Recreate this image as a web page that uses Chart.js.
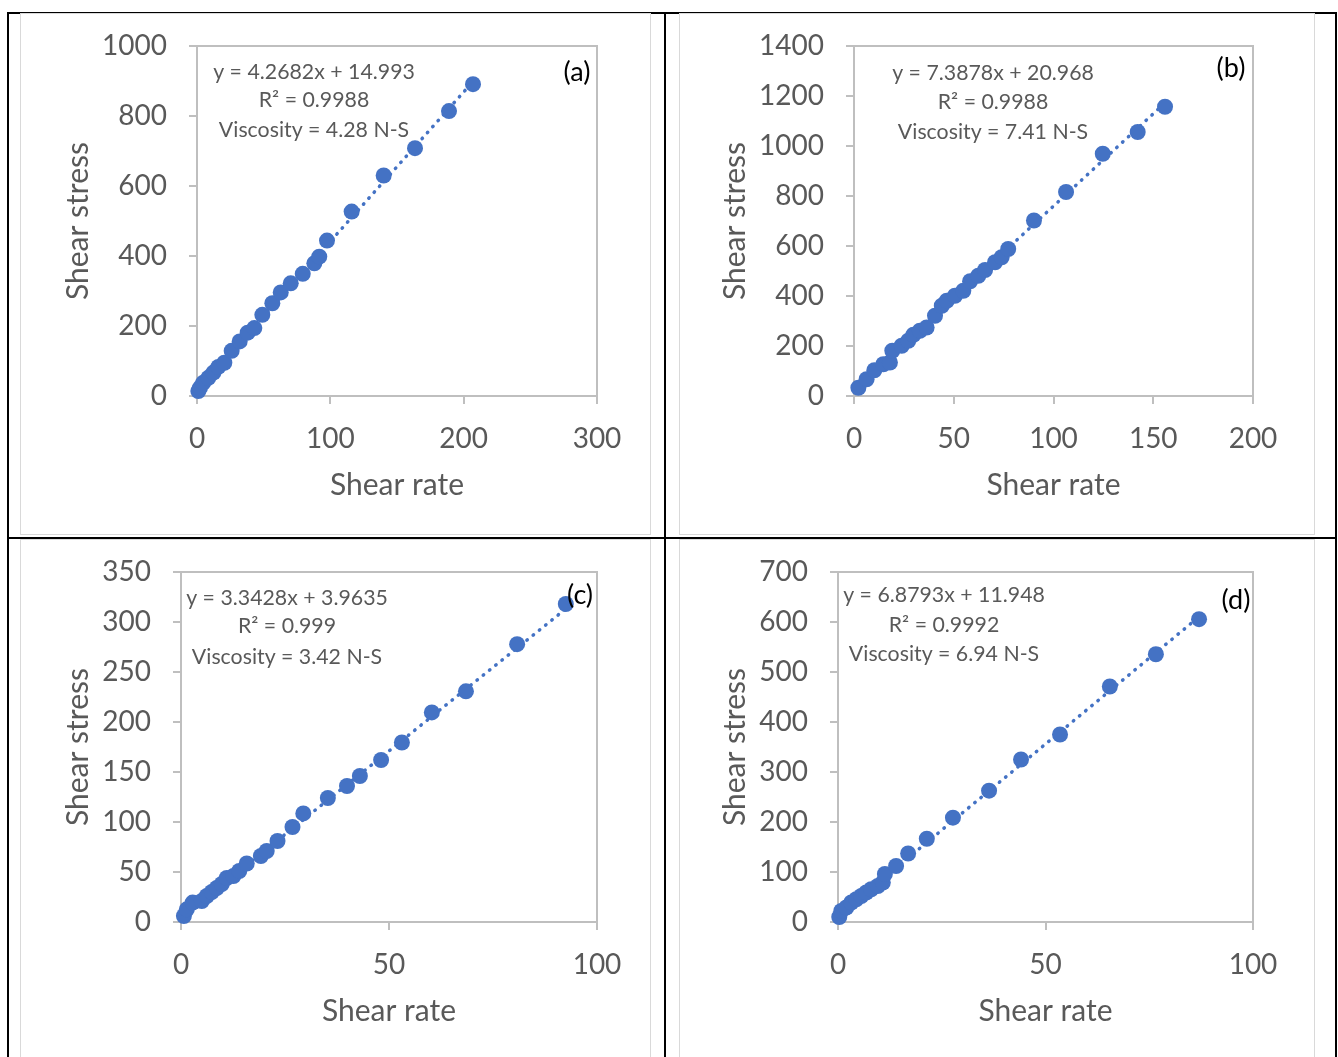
<!DOCTYPE html>
<html>
<head>
<meta charset="utf-8">
<script src="https://cdn.jsdelivr.net/npm/chart.js@4.4.1/dist/chart.umd.min.js"></script>
<style>
  html, body { margin: 0; padding: 0; background: #fff; width: 1338px; height: 1057px; overflow: hidden; }
  .rule { position: absolute; background: #000; }
  .panel { position: absolute; box-sizing: border-box; border: 1px solid #d9d9d9; background: #fff; }
  .panel canvas { display: block; }
</style>
</head>
<body>
<!-- table rules -->
<div class="rule" style="left:7px;top:12px;width:1330px;height:2px"></div>
<div class="rule" style="left:7px;top:537px;width:1330px;height:2px"></div>
<div class="rule" style="left:7px;top:12px;width:2px;height:1045px"></div>
<div class="rule" style="left:664px;top:12px;width:2px;height:1045px"></div>
<div class="rule" style="left:1335px;top:12px;width:2px;height:1045px"></div>

<div class="panel" style="left:20px;top:13px;width:631px;height:522px"><canvas id="cA" width="629" height="520"></canvas></div>
<div class="panel" style="left:679px;top:13px;width:636px;height:522px"><canvas id="cB" width="634" height="520"></canvas></div>
<div class="panel" style="left:20px;top:539px;width:631px;height:522px"><canvas id="cC" width="629" height="520"></canvas></div>
<div class="panel" style="left:679px;top:539px;width:636px;height:522px"><canvas id="cD" width="634" height="520"></canvas></div>

<script>
// Measured shear rate / shear stress pairs for the four samples
const rateA   = [1, 2.3, 4.7, 8.5, 12.3, 16, 20.5, 26, 32, 38, 43, 49, 56.5, 62.8, 70.3, 79.3, 88, 91.7, 97.5, 116, 140, 163.5, 189, 207];
const stressA = [14, 24, 38, 52, 67, 83, 95, 129, 156, 181, 194, 232, 265, 296, 322, 349, 379, 398, 444, 527, 630, 708, 814, 891];

const rateB   = [2.2, 6.3, 10.2, 14.7, 18, 19.2, 23.9, 27.2, 29.8, 33, 36.4, 40.6, 44, 46.5, 50.6, 54.8, 58.2, 62.3, 65.7, 70.7, 74, 77.3, 90.2, 106.3, 124.7, 142.2, 155.9];
const stressB = [33, 67, 103, 127, 134, 181, 201, 221, 245, 261, 274, 321, 361, 381, 401, 421, 459, 481, 504, 535, 555, 588, 702, 816, 969, 1056, 1157];

const rateC   = [0.7, 1.4, 2.8, 5, 6.2, 7.4, 8.6, 9.8, 11, 12.6, 14, 15.8, 19.2, 20.6, 23.2, 26.8, 29.4, 35.3, 39.9, 43, 48.1, 53.1, 60.3, 68.5, 80.8, 92.5];
const stressC = [6, 12.7, 19.4, 21, 26, 30, 34, 38, 44, 46, 51, 58.5, 66, 71, 81, 95, 108.6, 124, 136, 146, 162, 179.5, 209.6, 230.7, 277.8, 318];

const rateD   = [0.3, 0.8, 2, 3.2, 4.4, 5.6, 6.8, 8, 9.6, 10.8, 11.3, 14, 16.9, 21.4, 27.7, 36.4, 44.1, 53.5, 65.5, 76.6, 87];
const stressD = [10, 22, 29, 39, 45.5, 52, 59, 65.5, 72, 79, 96, 112, 137, 166.5, 208.6, 262.7, 325, 375, 471, 535.5, 605.7];

// Linear fit results printed on each panel
const fitSlope     = [4.2682, 7.3878, 3.3428, 6.8793];
const fitIntercept = ['14.993', '20.968', '3.9635', '11.948'];
const fitR2        = ['0.9988', '0.9988', '0.999', '0.9992'];
const viscosity    = ['4.28', '7.41', '3.42', '6.94'];
const panelTags    = ['(a)', '(b)', '(c)', '(d)'];

// Axis ranges and tick steps
const xMax  = [300, 200, 100, 100];
const xStep = [100, 50, 50, 50];
const yMax  = [1000, 1400, 350, 700];
const yStep = [200, 200, 50, 100];

const xTitle = 'Shear rate';
const yTitle = 'Shear stress';

const BLUE = '#4472C4';
const AXIS = '#bfbfbf';
const TEXT = '#595959';
const FONT = 'Lato';

// Per-panel layout: y-axis band width, right padding, y-title offset, note placement
const layoutSpec = [
  { yw: 176, right: 53, yTitlePad: 39, noteX: 293, noteY: [58, 86, 116], tagX: 556, tagY: 58 },
  { yw: 174, right: 61, yTitlePad: 37, noteX: 313, noteY: [59, 88, 118], tagX: 551, tagY: 54 },
  { yw: 160, right: 53, yTitlePad: 39, noteX: 266, noteY: [58, 86, 117], tagX: 559, tagY: 55 },
  { yw: 158, right: 61, yTitlePad: 37, noteX: 264, noteY: [55, 85, 114], tagX: 556, tagY: 60 }
];

// Closes the plot area with the top and right edges
const frame = {
  id: 'frame',
  beforeDatasetsDraw(chart) {
    const { ctx, chartArea: a } = chart;
    ctx.save();
    ctx.strokeStyle = AXIS;
    ctx.lineWidth = 2;
    ctx.beginPath();
    ctx.moveTo(a.left, a.top);
    ctx.lineTo(a.right, a.top);
    ctx.lineTo(a.right, a.bottom);
    ctx.stroke();
    ctx.restore();
  }
};

// Regression equation, R² and viscosity notes plus the panel tag
const notes = {
  id: 'notes',
  afterDraw(chart, args, opts) {
    const { ctx } = chart;
    const i = opts.index;
    const L = layoutSpec[i];
    ctx.save();
    ctx.textAlign = 'center';
    ctx.textBaseline = 'middle';
    ctx.fillStyle = TEXT;
    ctx.font = `21.3px ${FONT}`;
    const lines = [
      `y = ${fitSlope[i]}x + ${fitIntercept[i]}`,
      `R² = ${fitR2[i]}`,
      `Viscosity = ${viscosity[i]} N-S`
    ];
    lines.forEach((t, k) => ctx.fillText(t, L.noteX, L.noteY[k]));
    ctx.fillStyle = '#000';
    ctx.font = `27px ${FONT}`;
    ctx.fillText(panelTags[i], L.tagX, L.tagY);
    ctx.restore();
  }
};

const plainNumber = v => String(v);

function build(canvasId, i, rate, stress) {
  const L = layoutSpec[i];
  const lo = Math.min(...rate);
  const hi = Math.max(...rate);
  const b = parseFloat(fitIntercept[i]);
  const tickFont = { family: FONT, size: 28 };
  const titleFont = { family: FONT, size: 30 };

  new Chart(document.getElementById(canvasId), {
    type: 'scatter',
    data: {
      datasets: [
        {
          data: rate.map((x, k) => ({ x, y: stress[k] })),
          backgroundColor: BLUE,
          borderColor: BLUE,
          pointRadius: 8,
          pointBorderWidth: 0,
          pointHoverRadius: 8,
          clip: false
        },
        {
          type: 'line',
          data: [{ x: lo, y: fitSlope[i] * lo + b }, { x: hi, y: fitSlope[i] * hi + b }],
          borderColor: BLUE,
          borderWidth: 3.5,
          borderDash: [0.5, 7.5],
          borderCapStyle: 'round',
          pointRadius: 0,
          fill: false,
          tension: 0,
          clip: false
        }
      ]
    },
    options: {
      responsive: false,
      animation: false,
      events: [],
      layout: { padding: { left: 0, top: 32, right: L.right, bottom: 28 } },
      plugins: {
        legend: { display: false },
        tooltip: { enabled: false },
        notes: { index: i }
      },
      scales: {
        x: {
          type: 'linear',
          min: 0,
          max: xMax[i],
          ticks: { stepSize: xStep[i], font: tickFont, color: TEXT, padding: 18, maxRotation: 0, callback: plainNumber },
          grid: { drawOnChartArea: false, tickLength: 8, color: AXIS, lineWidth: 2 },
          border: { color: AXIS, width: 2 },
          title: { display: true, text: xTitle, font: titleFont, color: TEXT, padding: { top: 0, bottom: 3 } },
          afterFit(s) { s.height = 110; }
        },
        y: {
          type: 'linear',
          min: 0,
          max: yMax[i],
          ticks: { stepSize: yStep[i], font: tickFont, color: TEXT, padding: 22, callback: plainNumber },
          grid: { drawOnChartArea: false, tickLength: 8, color: AXIS, lineWidth: 2 },
          border: { color: AXIS, width: 2 },
          title: { display: true, text: yTitle, font: titleFont, color: TEXT, padding: { top: L.yTitlePad, bottom: 0 } },
          afterFit(s) {
            s.width = L.yw;
            s.paddingTop = 16;
            s.paddingBottom = 16;
          }
        }
      }
    },
    plugins: [frame, notes]
  });
}

function drawAll() {
  build('cA', 0, rateA, stressA);
  build('cB', 1, rateB, stressB);
  build('cC', 2, rateC, stressC);
  build('cD', 3, rateD, stressD);
}

if (document.fonts && document.fonts.load) {
  Promise.all([document.fonts.load(`28px ${FONT}`), document.fonts.load(`21px ${FONT}`)])
    .then(drawAll, drawAll);
} else {
  drawAll();
}
</script>
</body>
</html>
